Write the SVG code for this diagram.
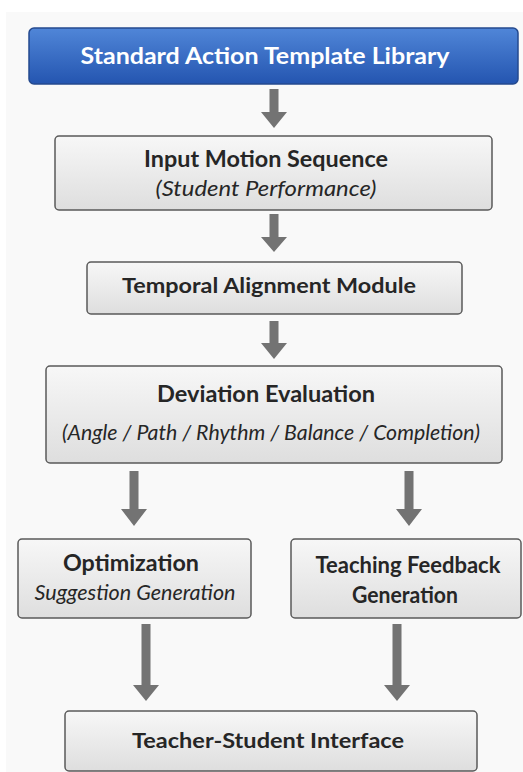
<svg xmlns="http://www.w3.org/2000/svg" width="523" height="772" viewBox="0 0 523 772">
  <defs>
    <linearGradient id="blueFill" x1="0" y1="0" x2="0" y2="1">
      <stop offset="0" stop-color="#5086d8"/>
      <stop offset="1" stop-color="#2455b0"/>
    </linearGradient>
    <linearGradient id="grayFill" x1="0" y1="0" x2="0" y2="1">
      <stop offset="0" stop-color="#f7f7f7"/>
      <stop offset="1" stop-color="#dedede"/>
    </linearGradient>
    <style>
      .box { fill: url(#grayFill); stroke: #5a5a5a; stroke-width: 1.5; }
      .head { fill: url(#blueFill); stroke: #24498e; stroke-width: 1.5; }
      .t { font-family: "Lato", "Open Sans", "DejaVu Sans", sans-serif; text-anchor: middle; fill: #262626; }
      .b { font-weight: bold; }
      .i { font-style: italic; }
      .w { fill: #ffffff; }
      .arrow { fill: #737373; }
    </style>
  </defs>

  <rect width="523" height="772" fill="#ffffff"/>
  <rect x="6" y="12" width="517" height="760" fill="#f9f9f9"/>

  <g id="connectors">
    <path class="arrow" d="M269.5 89 H278.5 V112 H287 L274 128 L261 112 H269.5 Z"/>
    <path class="arrow" d="M269.5 214 H278.5 V237 H287 L274 252 L261 237 H269.5 Z"/>
    <path class="arrow" d="M269.5 321 H278.5 V343 H287 L274 359 L261 343 H269.5 Z"/>
    <path class="arrow" d="M129.5 471 H138.5 V509 H147 L134 526 L121 509 H129.5 Z"/>
    <path class="arrow" d="M404.5 471 H413.5 V509 H422 L409 526 L396 509 H404.5 Z"/>
    <path class="arrow" d="M141.5 624 H150.5 V685 H159 L146 701 L133 685 H141.5 Z"/>
    <path class="arrow" d="M392.5 624 H401.5 V685 H410 L397 701 L384 685 H392.5 Z"/>
  </g>

  <g id="template-library">
    <rect class="head" x="29" y="28" width="489" height="56" rx="5"/>
    <text class="t b w" x="265" y="64" font-size="23.5" textLength="369" lengthAdjust="spacingAndGlyphs">Standard Action Template Library</text>
  </g>

  <g id="input-motion">
    <rect class="box" x="55" y="136" width="437" height="74" rx="4"/>
    <text class="t b" x="266" y="167" font-size="22" textLength="244" lengthAdjust="spacingAndGlyphs">Input Motion Sequence</text>
    <text class="t i" x="266" y="196" font-size="21" textLength="221" lengthAdjust="spacingAndGlyphs">(Student Performance)</text>
  </g>

  <g id="temporal-alignment">
    <rect class="box" x="87" y="262" width="375" height="52" rx="4"/>
    <text class="t b" x="269" y="293" font-size="21" textLength="294" lengthAdjust="spacingAndGlyphs">Temporal Alignment Module</text>
  </g>

  <g id="deviation-evaluation">
    <rect class="box" x="46" y="366" width="456" height="97" rx="4"/>
    <text class="t b" x="266" y="402" font-size="22" textLength="218" lengthAdjust="spacingAndGlyphs">Deviation Evaluation</text>
    <text class="t i" x="271" y="440" font-size="21" textLength="418" lengthAdjust="spacingAndGlyphs">(Angle / Path / Rhythm / Balance / Completion)</text>
  </g>

  <g id="optimization">
    <rect class="box" x="18" y="539" width="233" height="79" rx="4"/>
    <text class="t b" x="131" y="571" font-size="22" textLength="136" lengthAdjust="spacingAndGlyphs">Optimization</text>
    <text class="t i" x="135" y="600" font-size="21" textLength="201" lengthAdjust="spacingAndGlyphs">Suggestion Generation</text>
  </g>

  <g id="teaching-feedback">
    <rect class="box" x="291" y="539" width="230" height="79" rx="4"/>
    <text class="t b" x="408" y="573" font-size="22" textLength="185" lengthAdjust="spacingAndGlyphs">Teaching Feedback</text>
    <text class="t b" x="405" y="603" font-size="22" textLength="106" lengthAdjust="spacingAndGlyphs">Generation</text>
  </g>

  <g id="teacher-student-interface">
    <rect class="box" x="65" y="711" width="412" height="60" rx="4"/>
    <text class="t b" x="268" y="748" font-size="21" textLength="272" lengthAdjust="spacingAndGlyphs">Teacher-Student Interface</text>
  </g>
</svg>
